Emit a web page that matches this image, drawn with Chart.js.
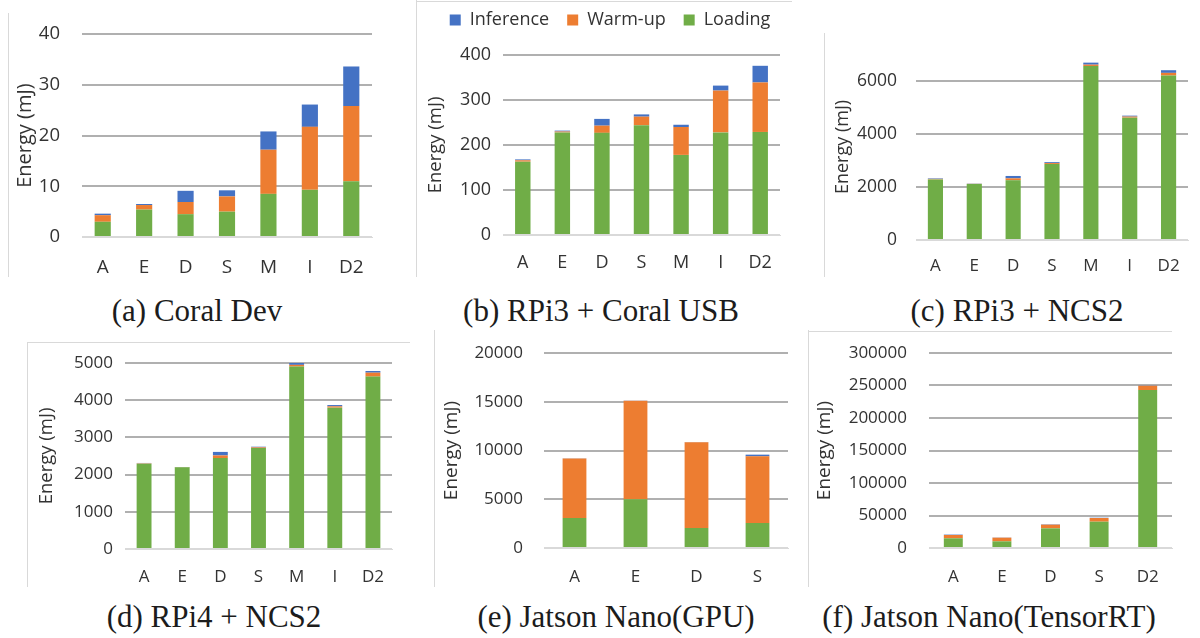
<!DOCTYPE html>
<html>
<head>
<meta charset="utf-8">
<script src="https://cdn.jsdelivr.net/npm/chart.js@4/dist/chart.umd.min.js"></script>
<style>
  html, body { margin: 0; padding: 0; background: #fff; }
  body { width: 1200px; height: 638px; position: relative; overflow: hidden; }
  .panel { position: absolute; }
  .frame { position: absolute; background: #d9d9d9; }
  .cap {
    position: absolute; white-space: nowrap; color: #1c1c1c;
    font-family: "Liberation Serif", "DejaVu Serif", serif; font-size: 31px;
    transform: translate(-50%, -50%);
  }
</style>
</head>
<body>

<!-- thin frame lines around the sub-figures -->
<div class="frame" style="left:8px;top:13px;width:1px;height:264px"></div>
<div class="frame" style="left:416px;top:0px;width:1px;height:277px"></div>
<div class="frame" style="left:416px;top:1px;width:376px;height:1px"></div>
<div class="frame" style="left:824px;top:33px;width:1px;height:244px"></div>
<div class="frame" style="left:27px;top:342px;width:1px;height:245px"></div>
<div class="frame" style="left:27px;top:342px;width:383px;height:1px"></div>
<div class="frame" style="left:434px;top:330px;width:1px;height:257px"></div>
<div class="frame" style="left:808px;top:330px;width:1px;height:257px"></div>
<div class="frame" style="left:808px;top:331px;width:364px;height:1px"></div>

<canvas id="chartA" class="panel"></canvas>
<canvas id="chartB" class="panel"></canvas>
<canvas id="chartC" class="panel"></canvas>
<canvas id="chartD" class="panel"></canvas>
<canvas id="chartE" class="panel"></canvas>
<canvas id="chartF" class="panel"></canvas>

<div class="cap" style="left:197px;top:311px">(a) Coral Dev</div>
<div class="cap" style="left:601px;top:311px">(b) RPi3 + Coral USB</div>
<div class="cap" style="left:1017px;top:311px">(c) RPi3 + NCS2</div>
<div class="cap" style="left:214px;top:617px">(d) RPi4 + NCS2</div>
<div class="cap" style="left:616px;top:617px">(e) Jatson Nano(GPU)</div>
<div class="cap" style="left:989px;top:617px">(f) Jatson Nano(TensorRT)</div>

<script>
// ---- categories ----
const modelsAll = ['A', 'E', 'D', 'S', 'M', 'I', 'D2'];
const modelsGpu = ['A', 'E', 'D', 'S'];
const modelsTrt = ['A', 'E', 'D', 'S', 'D2'];

// ---- (a) Coral Dev, energy in mJ ----
const coralDevLoading   = [3.0, 5.4, 4.5, 5.0, 8.5, 9.3, 11.0];
const coralDevWarmup    = [1.3, 0.9, 2.4, 3.0, 8.7, 12.4, 14.8];
const coralDevInference = [0.3, 0.2, 2.2, 1.2, 3.6, 4.4, 7.8];
const coralDevTicks     = [0, 10, 20, 30, 40];

// ---- (b) RPi3 + Coral USB ----
const rpi3CoralLoading   = [163, 228, 227, 244, 178, 228, 229];
const rpi3CoralWarmup    = [3, 2, 16, 19, 62, 93, 110];
const rpi3CoralInference = [2, 2, 15, 5, 5, 11, 37];
const rpi3CoralTicks     = [0, 100, 200, 300, 400];

// ---- (c) RPi3 + NCS2 ----
const rpi3NcsLoading   = [2280, 2110, 2250, 2860, 6550, 4605, 6190];
const rpi3NcsWarmup    = [20, 5, 70, 35, 50, 40, 100];
const rpi3NcsInference = [20, 8, 90, 35, 75, 35, 100];
const rpi3NcsTicks     = [0, 2000, 4000, 6000];
const rpi3NcsMax       = 7000;

// ---- (d) RPi4 + NCS2 ----
const rpi4NcsLoading   = [2295, 2195, 2445, 2715, 4905, 3800, 4635];
const rpi4NcsWarmup    = [10, 5, 70, 17, 45, 35, 105];
const rpi4NcsInference = [8, 5, 95, 18, 50, 35, 45];
const rpi4NcsTicks     = [0, 1000, 2000, 3000, 4000, 5000];

// ---- (e) Jetson Nano (GPU) ----
const nanoGpuLoading   = [3080, 4990, 2050, 2565];
const nanoGpuWarmup    = [6110, 10120, 8790, 6840];
const nanoGpuInference = [20, 20, 20, 170];
const nanoGpuTicks     = [0, 5000, 10000, 15000, 20000];

// ---- (f) Jetson Nano (TensorRT) ----
const nanoTrtLoading   = [14900, 10250, 30250, 40500, 243000];
const nanoTrtWarmup    = [5100, 5650, 5650, 5650, 6700];
const nanoTrtInference = [600, 300, 600, 400, 500];
const nanoTrtTicks     = [0, 50000, 100000, 150000, 200000, 250000, 300000];

// ---- styling ----
const GREEN = '#70AD47', ORANGE = '#ED7D31', BLUE = '#4472C4';
const TEXT = '#333333';
const FONT = 'Open Sans';
Chart.defaults.font.family = FONT;
Chart.defaults.color = TEXT;

// moves the legend to a fixed spot above the plot
const legendPlace = {
  id: 'legendPlace',
  afterLayout(chart, args, opts) {
    const lg = chart.legend;
    if (!lg || !lg.options.display || opts.cx == null) return;
    const lab = lg.options.labels;
    const itemH = Math.max(lab.font.size, lab.boxHeight);
    const dy = opts.cy - (lg.top + lab.padding + itemH / 2);
    const lw = lg.lineWidths[0];
    const x0 = (lg.left + lab.padding + lg.right - lw) / 2;
    const dx = opts.cx - (x0 + (lw - lab.padding) / 2);
    lg.top += dy; lg.bottom += dy; lg.left += dx; lg.right += dx;
  }
};

function panel(id, p) {
  const cv = document.getElementById(id);
  cv.width = p.box.w; cv.height = p.box.h;
  cv.style.left = p.box.x + 'px'; cv.style.top = p.box.y + 'px';
  cv.style.width = p.box.w + 'px'; cv.style.height = p.box.h + 'px';

  const want = {
    left: p.plot.L - p.box.x, right: p.plot.R - p.box.x,
    top: p.plot.T - p.box.y, bottom: p.plot.B - p.box.y
  };
  const fs = p.fs;

  const chart = new Chart(cv, {
    type: 'bar',
    data: {
      labels: p.labels,
      datasets: [
        { label: 'Loading',   data: p.loading,   backgroundColor: GREEN },
        { label: 'Warm-up',   data: p.warmup,    backgroundColor: ORANGE },
        { label: 'Inference', data: p.inference, backgroundColor: BLUE }
      ]
    },
    options: {
      responsive: false,
      animation: false,
      devicePixelRatio: 1,
      layout: { padding: { left: 0, top: want.top, right: p.box.w - want.right, bottom: 0 } },
      datasets: { bar: { categoryPercentage: 1, barPercentage: 0.39 } },
      plugins: {
        tooltip: { enabled: false },
        legend: {
          display: !!p.legend,
          reverse: true,
          labels: {
            font: { family: FONT, size: p.legend ? p.legend.fs : 12 },
            color: TEXT, boxWidth: 11, boxHeight: 11, padding: 18
          }
        },
        legendPlace: p.legend ? { cx: p.legend.cx - p.box.x, cy: p.legend.cy - p.box.y } : {}
      },
      scales: {
        x: {
          stacked: true,
          grid: { display: false, drawTicks: false },
          border: { display: true, color: '#d9d9d9', width: 1 },
          ticks: { font: { size: p.catFs || fs }, color: TEXT, padding: p.catPad },
          afterFit: s => {
            s.height = p.box.h - want.bottom;
            s.paddingLeft = 0; s.paddingRight = 0;
          }
        },
        y: {
          stacked: true,
          min: 0,
          max: p.max,
          grid: {
            drawTicks: false,
            lineWidth: 2,
            color: c => (c.tick && c.tick.value === 0) ? '#d9d9d9' : '#b0b0b0'
          },
          border: { display: false },
          afterBuildTicks: s => { s.ticks = p.ticks.map(v => ({ value: v })); },
          ticks: { font: { size: fs }, color: TEXT, padding: p.tickPad, callback: v => String(v) },
          title: {
            display: true, text: 'Energy (mJ)', color: TEXT,
            font: { size: p.titleFs }, padding: { top: p.titlePad, bottom: 0 }
          },
          afterFit: s => {
            s.width = want.left;
            s.paddingTop = 0; s.paddingBottom = 0;
          }
        }
      }
    },
    plugins: [legendPlace]
  });

  // keep the plot rectangle where it belongs after the first layout pass
  for (let i = 0; i < 3; i++) {
    const a = chart.chartArea, pad = chart.options.layout.padding;
    const dl = want.left - a.left, dt = want.top - a.top;
    const dr = a.right - want.right, db = a.bottom - want.bottom;
    if (Math.abs(dl) + Math.abs(dt) + Math.abs(dr) + Math.abs(db) < 0.5) break;
    pad.left += dl; pad.top += dt; pad.right += dr; pad.bottom += db;
    chart.update('none');
  }
  return chart;
}

panel('chartA', {
  box: { x: 9, y: 13, w: 391, h: 264 }, plot: { L: 82, R: 372, T: 34, B: 237 },
  labels: modelsAll, loading: coralDevLoading, warmup: coralDevWarmup, inference: coralDevInference,
  ticks: coralDevTicks, max: 40,
  fs: 18.5, catFs: 19, titleFs: 20, titlePad: 4, tickPad: 22, catPad: 19
});

panel('chartB', {
  box: { x: 417, y: 2, w: 388, h: 275 }, plot: { L: 503, R: 780, T: 55, B: 235 },
  labels: modelsAll, loading: rpi3CoralLoading, warmup: rpi3CoralWarmup, inference: rpi3CoralInference,
  ticks: rpi3CoralTicks, max: 400,
  fs: 18, catFs: 18, titleFs: 18.5, titlePad: 8, tickPad: 12, catPad: 17,
  legend: { fs: 18, cx: 610, cy: 20 }
});

panel('chartC', {
  box: { x: 825, y: 33, w: 375, h: 244 }, plot: { L: 916, R: 1188, T: 54, B: 240 },
  labels: modelsAll, loading: rpi3NcsLoading, warmup: rpi3NcsWarmup, inference: rpi3NcsInference,
  ticks: rpi3NcsTicks, max: rpi3NcsMax,
  fs: 17.5, catFs: 17, titleFs: 18, titlePad: 7, tickPad: 19, catPad: 16
});

panel('chartD', {
  box: { x: 28, y: 343, w: 382, h: 244 }, plot: { L: 125, R: 392, T: 363, B: 549 },
  labels: modelsAll, loading: rpi4NcsLoading, warmup: rpi4NcsWarmup, inference: rpi4NcsInference,
  ticks: rpi4NcsTicks, max: 5000,
  fs: 17, catFs: 17, titleFs: 18.5, titlePad: 8, tickPad: 12, catPad: 18
});

panel('chartE', {
  box: { x: 435, y: 330, w: 365, h: 257 }, plot: { L: 544, R: 788, T: 353, B: 548 },
  labels: modelsGpu, loading: nanoGpuLoading, warmup: nanoGpuWarmup, inference: nanoGpuInference,
  ticks: nanoGpuTicks, max: 20000,
  fs: 17, catFs: 17, titleFs: 19, titlePad: 5, tickPad: 21, catPad: 19
});

panel('chartF', {
  box: { x: 809, y: 332, w: 391, h: 255 }, plot: { L: 929, R: 1172, T: 353, B: 548 },
  labels: modelsTrt, loading: nanoTrtLoading, warmup: nanoTrtWarmup, inference: nanoTrtInference,
  ticks: nanoTrtTicks, max: 300000,
  fs: 17, catFs: 17, titleFs: 19, titlePad: 4, tickPad: 22, catPad: 19
});
</script>
</body>
</html>
